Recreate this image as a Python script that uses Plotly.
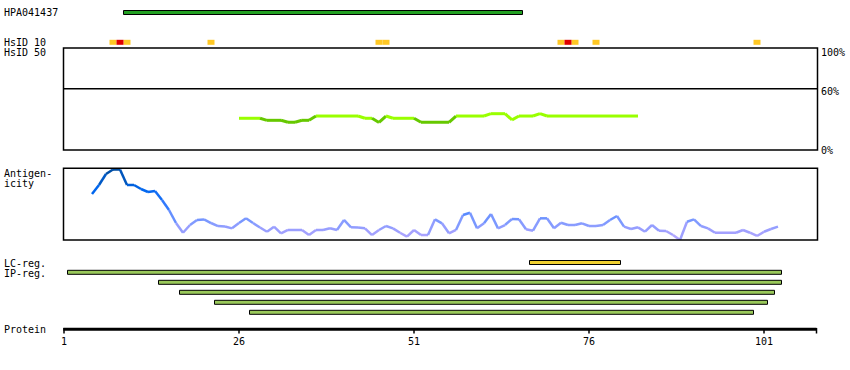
import plotly.graph_objects as go

# ---------------- data ----------------
protein_len = 108.5
tick_residues = [1, 26, 51, 76, 101]

hpa_name = "HPA041437"
hpa_start, hpa_end = 10, 66

hsid10_orange = [8, 10, 22, 46, 47, 72, 74, 77, 100]
hsid10_red = [9, 73]

ident_res = list(range(26, 84))
ident_val = [31.1, 31.1, 31.1, 31.1, 29.1, 29.1, 29.1, 27.2, 27.2, 29.1,
             29.1, 33.3, 33.3, 33.3, 33.3, 33.3, 33.3, 33.3, 31.1, 31.1,
             27.0, 33.3, 31.1, 31.1, 31.1, 31.1, 27.2, 27.2, 27.2, 27.2,
             27.2, 33.3, 33.3, 33.3, 33.3, 33.3, 35.6, 35.6, 35.6, 29.5,
             33.3, 33.3, 33.3, 35.6, 33.3, 33.3, 33.3, 33.3, 33.3, 33.3,
             33.3, 33.3, 33.3, 33.3, 33.3, 33.3, 33.3, 33.3]

anti_res = list(range(5, 104))
anti_px = [194, 185, 174, 169.5, 169.5, 185, 185, 189, 192, 191,
           200, 210, 223, 232.7, 225, 220, 219.5, 223, 226, 226.5,
           228.3, 223, 218.3, 223, 227.5, 231.7, 226.7, 233.3, 230, 230,
           230, 235, 230, 230, 228.3, 230, 220, 227.3, 227.5, 228.3,
           235, 230, 226, 228.3, 232.7, 236.7, 230, 235, 235, 219.3,
           223.3, 233.3, 230, 215, 212.7, 228.3, 223.3, 214, 228.3, 225,
           219, 219.3, 229.3, 230.7, 218.3, 218.3, 228.3, 222.7, 225, 225,
           223.3, 226, 226, 225, 220, 216, 226.7, 229, 227.3, 231.7,
           225, 230.7, 231, 235, 240, 221.7, 219.3, 226, 228.3, 232.7,
           232.7, 232.7, 232.7, 230, 232.7, 236, 231.7, 229, 226.7]
anti_val = [round((240 - p) / 72.0, 3) for p in anti_px]

lc_regions = [(68, 80)]
ip_regions = [(2, 103), (15, 103), (18, 102), (23, 101), (28, 99)]

# ---------------- geometry ----------------
W, H = 850, 370
X0_PX, PX_PER_RES = 64.0, 7.0
def px2res(px):
    return 1 + (px - X0_PX) / PX_PER_RES
def pyp(py):
    return 1 - py / H

FONT = dict(family="DejaVu Sans Mono", size=10, color="black")

fig = go.Figure()
shapes = []
annotations = []

def label(x_px, y_px, text, xanchor="left"):
    annotations.append(dict(x=x_px / W, y=pyp(y_px), xref="paper", yref="paper",
                            text=text, showarrow=False, xanchor=xanchor,
                            yanchor="middle", font=FONT))

# left labels
for txt, ypx in [("HPA041437", 12.5), ("HsID 10", 42.3), ("HsID 50", 52.5),
                 ("Antigen-", 173.3), ("icity", 183.3), ("LC-reg.", 263),
                 ("IP-reg.", 273), ("Protein", 329.5)]:
    label(1.5, ypx, txt)
for txt, ypx in [("100%", 52.5), ("60%", 91), ("0%", 150)]:
    label(819, ypx, txt)

# HPA bar
shapes.append(dict(type="rect", xref="x", yref="y", x0=hpa_start - 0.5, x1=hpa_end + 0.5,
                   y0=10.5, y1=14.5, fillcolor="#22a022", line=dict(color="black", width=1)))

# HsID10 markers
for r in hsid10_orange:
    shapes.append(dict(type="rect", xref="x", yref="y", x0=r - 0.5, x1=r + 0.5,
                       y0=39.8, y1=44.8, fillcolor="#ffc824", line=dict(width=0)))
for r in hsid10_red:
    shapes.append(dict(type="rect", xref="x", yref="y", x0=r - 0.5, x1=r + 0.5,
                       y0=39.8, y1=44.8, fillcolor="#e00000", line=dict(width=0)))

# panel frames
xl, xr = 63.5 / W, 817.5 / W
for top, bot in [(48, 150), (168.3, 240)]:
    shapes.append(dict(type="rect", xref="paper", yref="paper", x0=xl, x1=xr,
                       y0=pyp(bot), y1=pyp(top), line=dict(color="black", width=1.5),
                       fillcolor="rgba(0,0,0,0)"))
# 60% line
shapes.append(dict(type="line", xref="paper", yref="y2", x0=xl, x1=xr, y0=60, y1=60,
                   line=dict(color="black", width=1.5)))

# identity line segments
def ident_color(v):
    return "#66c800" if v < 29.3 else "#99ff00"
for i in range(len(ident_res) - 1):
    v = min(ident_val[i], ident_val[i + 1])
    fig.add_trace(go.Scatter(x=ident_res[i:i + 2], y=ident_val[i:i + 2], mode="lines",
                             line=dict(color=ident_color(v), width=3), yaxis="y2",
                             hoverinfo="skip", showlegend=False))

# antigenicity
stops = [(0.0, (184, 168, 255)), (0.12, (160, 160, 255)), (0.25, (127, 154, 255)),
         (0.45, (58, 125, 255)), (0.7, (0, 102, 238)), (1.0, (0, 74, 153))]
def anti_color(v):
    v = max(0.0, min(1.0, v))
    for (a, ca), (b, cb) in zip(stops[:-1], stops[1:]):
        if v <= b:
            t = (v - a) / (b - a)
            c = [round(ca[k] + t * (cb[k] - ca[k])) for k in range(3)]
            return "rgb(%d,%d,%d)" % tuple(c)
    return "rgb(0,74,153)"
for i in range(len(anti_res) - 1):
    v = (anti_val[i] + anti_val[i + 1]) / 2
    fig.add_trace(go.Scatter(x=anti_res[i:i + 2], y=anti_val[i:i + 2], mode="lines",
                             line=dict(color=anti_color(v), width=2.5), yaxis="y3",
                             hoverinfo="skip", showlegend=False))

# LC / IP region bars
for s, e in lc_regions:
    shapes.append(dict(type="rect", xref="x", yref="y", x0=s - 0.5, x1=e + 0.5,
                       y0=260.5, y1=264.5, fillcolor="#f0d030", line=dict(color="black", width=1)))
for k, (s, e) in enumerate(ip_regions):
    yc = 272.3 + 10 * k
    shapes.append(dict(type="rect", xref="x", yref="y", x0=s - 0.5, x1=e + 0.5,
                       y0=yc - 2, y1=yc + 2, fillcolor="#99c85a", line=dict(color="black", width=1)))

# protein axis
shapes.append(dict(type="line", xref="x", yref="y", x0=1 - 0.1, x1=protein_len, y0=329.3, y1=329.3,
                   line=dict(color="black", width=3)))
for t in tick_residues + [protein_len]:
    shapes.append(dict(type="line", xref="x", yref="y", x0=t, x1=t, y0=328, y1=333.5,
                       line=dict(color="black", width=1.5)))
for t in tick_residues:
    annotations.append(dict(x=t, y=341, xref="x", yref="y", text=str(t), showarrow=False,
                            xanchor="center", yanchor="middle", font=FONT))

fig.update_layout(
    width=W, height=H, margin=dict(l=0, r=0, t=0, b=0),
    paper_bgcolor="white", plot_bgcolor="white", showlegend=False,
    xaxis=dict(range=[px2res(0), px2res(W)], visible=False, fixedrange=True),
    yaxis=dict(range=[H, 0], visible=False, domain=[0, 1]),
    yaxis2=dict(range=[0, 100], domain=[pyp(150), pyp(48)], visible=False, anchor="x"),
    yaxis3=dict(range=[0, 1], domain=[pyp(240), pyp(168)], visible=False, anchor="x"),
    shapes=shapes, annotations=annotations,
)
fig.write_html("out.html", config={"displayModeBar": False},
               post_script="document.body.style.margin='0';document.body.style.overflow='hidden';")
